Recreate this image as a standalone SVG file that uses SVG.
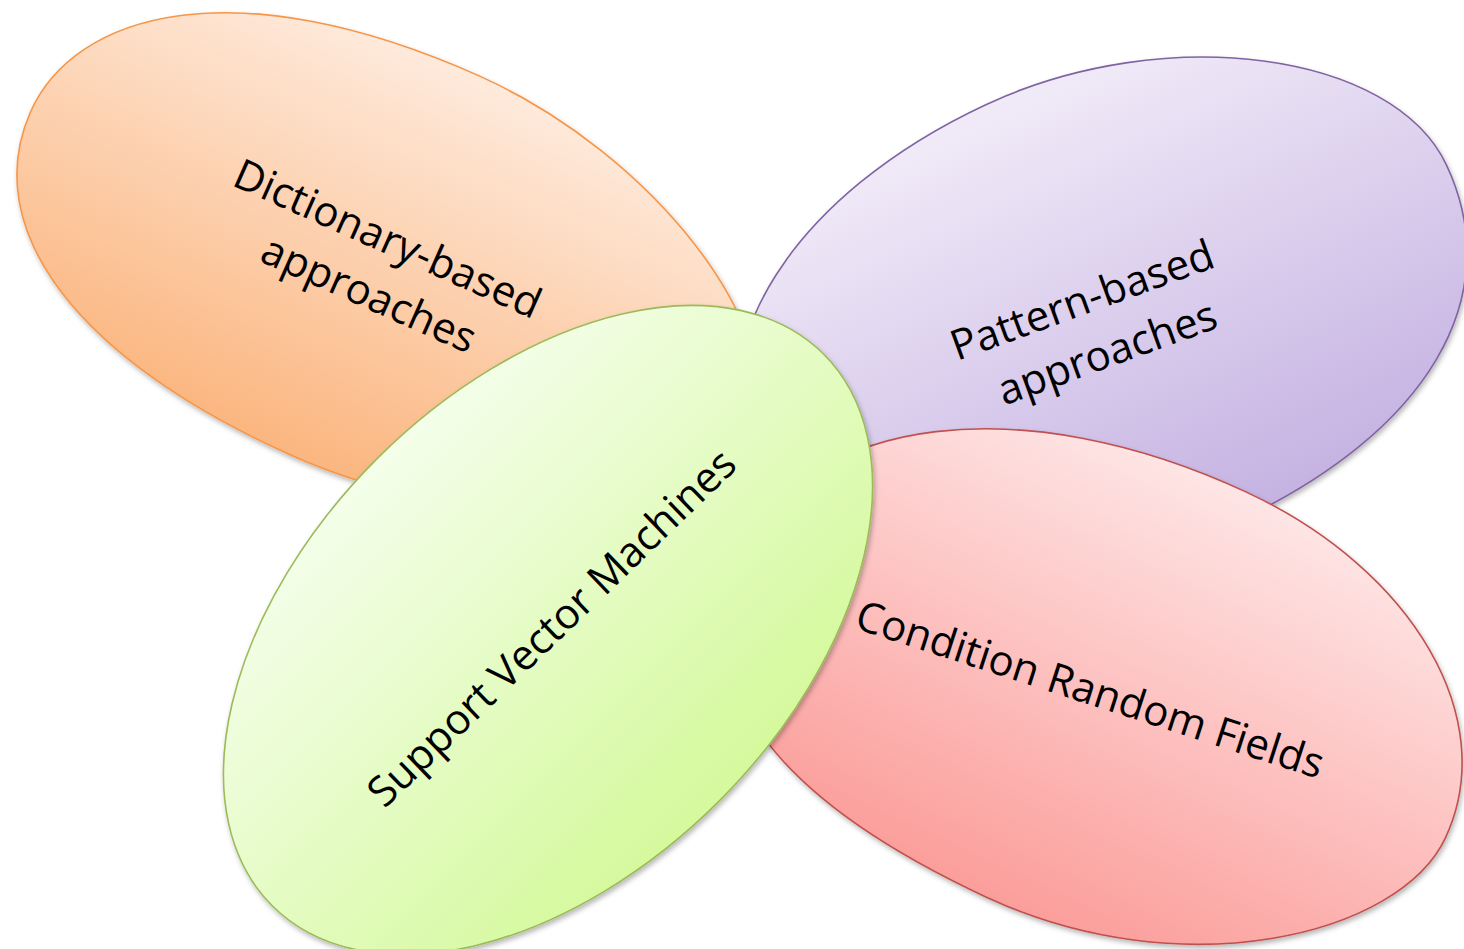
<svg xmlns="http://www.w3.org/2000/svg" width="1464" height="949" viewBox="0 0 1464 949">
  <style>
    .lbl { font-family: "Open Sans", "Liberation Sans", sans-serif; font-size: 42px; fill: #000; text-anchor: middle; }
    .petal { stroke-width: 1.6; }
  </style>
  <defs>
    <filter id="shadow" x="-10%" y="-10%" width="120%" height="125%">
      <feDropShadow dx="1.5" dy="3" stdDeviation="2.5" flood-color="#000" flood-opacity="0.28"/>
    </filter>
    <!-- fills run from the top to the bottom of each rotated petal -->
    <linearGradient id="gOrange" x1="0" y1="0" x2="0" y2="1">
      <stop offset="0" stop-color="#FEEADC"/>
      <stop offset="1" stop-color="#FBB680"/>
    </linearGradient>
    <linearGradient id="gPurple" x1="0" y1="0" x2="0" y2="1">
      <stop offset="0" stop-color="#F1EBF8"/>
      <stop offset="1" stop-color="#C5B2E2"/>
    </linearGradient>
    <linearGradient id="gRed" x1="0" y1="0" x2="0" y2="1">
      <stop offset="0" stop-color="#FEE5E5"/>
      <stop offset="1" stop-color="#FB9E9B"/>
    </linearGradient>
    <linearGradient id="gGreen" x1="0" y1="0" x2="0" y2="1">
      <stop offset="0" stop-color="#F4FEEA"/>
      <stop offset="1" stop-color="#D5F99C"/>
    </linearGradient>
  </defs>

  <!-- Dictionary-based approaches -->
  <g id="dictionary">
    <g filter="url(#shadow)">
      <path class="petal" fill="url(#gOrange)" stroke="#F79646" transform="translate(396 272) rotate(24)"
            d="M388,0 C388,105 184,210 -20,210 C-255,210 -399,131 -399,2 C-399,-105.5 -272.9,-213 -5,-213 C187.6,-213 388,-104.4 388,0 Z"/>
    </g>
    <text class="lbl" transform="translate(381,267) rotate(24)">
      <tspan x="0" y="-14">Dictionary-based</tspan>
      <tspan x="0" y="44">approaches</tspan>
    </text>
  </g>

  <!-- Pattern-based approaches -->
  <g id="pattern">
    <g filter="url(#shadow)">
      <path class="petal" fill="url(#gPurple)" stroke="#8064A2" transform="translate(1115.3 311.3) rotate(-25)"
            d="M362,8 C362,153.1 232,242 20,242 C-208.3,242 -395,128.6 -395,-10 C-395,-144.6 -241.7,-242 -30,-242 C167.6,-242 362,-118 362,8 Z"/>
    </g>
    <text class="lbl" transform="translate(1097,325) rotate(-20)">
      <tspan x="0" y="-14">Pattern-based</tspan>
      <tspan x="0" y="44">approaches</tspan>
    </text>
  </g>

  <!-- Condition Random Fields -->
  <g id="crf">
    <g filter="url(#shadow)">
      <path class="petal" fill="url(#gRed)" stroke="#C0504D" transform="translate(1110 690) rotate(25)"
            d="M366.5,-8 C366.5,101.1 190.3,240 -25,240 C-265.9,240 -390,168.6 -390,30 C-390,-122.2 -205.1,-237 40,-237 C225.5,-237 366.5,-138.1 366.5,-8 Z"/>
    </g>
    <text class="lbl" transform="translate(1090,690) rotate(18)" x="0" y="14">Condition Random Fields</text>
  </g>

  <!-- Support Vector Machines -->
  <g id="svm">
    <g filter="url(#shadow)">
      <ellipse class="petal" fill="url(#gGreen)" stroke="#9BBB59" cx="0" cy="0" rx="390" ry="242" transform="translate(548 630) rotate(-45)"/>
    </g>
    <text class="lbl" transform="translate(552,628) rotate(-44)" x="0" y="14">Support Vector Machines</text>
  </g>

  <!-- no connectors in this figure -->
  <g id="connectors"/>
</svg>
